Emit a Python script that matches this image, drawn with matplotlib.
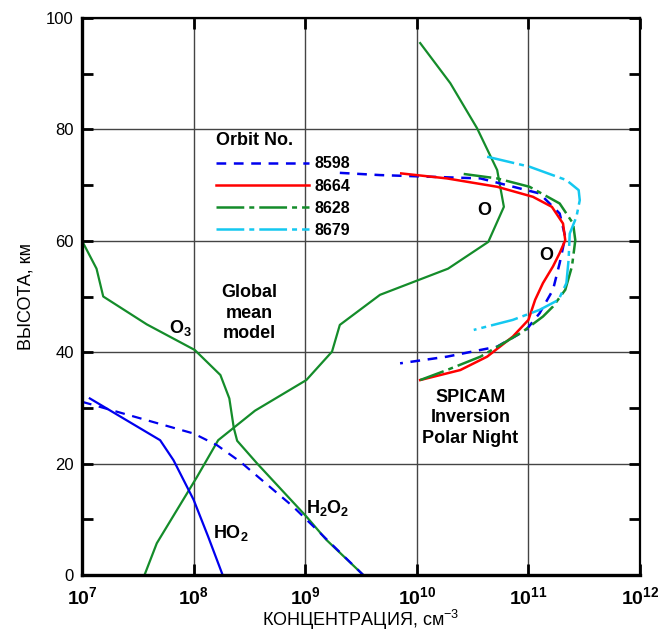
import numpy as np
import matplotlib
matplotlib.use("Agg")
import matplotlib.pyplot as plt

plt.rcParams['font.family'] = ['Liberation Sans', 'DejaVu Sans']
plt.rcParams['mathtext.fontset'] = 'custom'
plt.rcParams['mathtext.rm'] = 'Liberation Sans'
plt.rcParams['mathtext.bf'] = 'Liberation Sans:bold'
plt.rcParams['mathtext.it'] = 'Liberation Sans:italic'
plt.rcParams['lines.scale_dashes'] = False

# global mean model profiles (log10 concentration, altitude km)
o3_logc = [7.0, 7.13, 7.19, 7.58, 8.01, 8.24, 8.32, 8.36, 8.39, 8.57, 9.01, 9.19, 9.52]
o3_alt = [60.0, 55.0, 50.0, 45.0, 40.4, 35.9, 31.7, 26.4, 24.1, 20.0, 10.5, 6.3, 0.0]

o_logc = [7.56, 7.67, 8.03, 8.22, 8.55, 9.01, 9.24, 9.31, 9.67, 10.28, 10.64, 10.78,
          10.72, 10.54, 10.30, 10.03]
o_alt = [0.0, 5.7, 17.6, 24.2, 29.5, 35.0, 40.1, 44.9, 50.3, 55.0, 59.8, 66.1,
         72.7, 80.2, 88.3, 95.5]

ho2_logc = [7.07, 7.70, 7.82, 8.00, 8.13, 8.26]
ho2_alt = [31.7, 24.2, 20.6, 13.5, 6.9, 0.0]

h2o2_logc = [7.0, 8.00, 8.21, 8.42, 8.89, 9.52]
h2o2_alt = [31.1, 25.4, 23.3, 20.3, 12.3, 0.0]

# SPICAM ozone inversions, polar night
orbit_8598_logc = [9.31, 9.67, 10.57, 11.10, 11.28, 11.33, 11.28, 11.22, 11.10,
                   10.98, 10.72, 10.27, 9.85]
orbit_8598_alt = [72.2, 71.8, 71.2, 68.5, 64.9, 60.7, 56.0, 51.2, 47.0, 44.0, 41.0, 39.2, 38.0]

orbit_8664_logc = [9.86, 10.27, 10.72, 11.04, 11.21, 11.31, 11.33, 11.28, 11.22, 11.13,
                   11.06, 11.00, 10.86, 10.63, 10.39, 10.03]
orbit_8664_alt = [72.1, 71.2, 69.7, 67.9, 66.1, 63.1, 60.1, 57.8, 55.4, 52.4,
                  49.4, 45.8, 42.8, 39.2, 36.8, 35.0]

orbit_8628_logc = [10.42, 10.72, 11.01, 11.28, 11.40, 11.42, 11.39, 11.33, 11.22, 11.13,
                   10.95, 10.80, 10.57, 10.27, 10.03]
orbit_8628_alt = [72.0, 71.2, 69.7, 66.7, 63.1, 60.1, 55.4, 51.2, 48.2, 46.4,
                  43.7, 41.9, 39.2, 36.8, 35.0]

orbit_8679_logc = [10.63, 11.01, 11.34, 11.45, 11.46, 11.43, 11.37, 11.36, 11.34, 11.27,
                   11.10, 10.86, 10.51]
orbit_8679_alt = [75.1, 73.3, 70.9, 69.1, 67.3, 64.3, 61.3, 56.6, 52.4, 49.4, 47.6, 45.8, 44.0]

orbit_names = ['8598', '8664', '8628', '8679']
x_decades = [7, 8, 9, 10, 11, 12]

fig = plt.figure(figsize=(6.69, 6.32), dpi=100)
ax = fig.add_axes([0.1226, 0.0902, 0.8341, 0.8813])

dgreen = '#148c2a'
blue = '#0000ee'
red = '#ff0000'
cyan = '#14c8f0'
dash = (0, (7, 5.5))
dashdot = (0, (20, 3.6, 3.6, 3.6))

ax.plot(10 ** np.array(o3_logc), o3_alt, color=dgreen, lw=1.6)
ax.plot(10 ** np.array(o_logc), o_alt, color=dgreen, lw=1.6)
ax.plot(10 ** np.array(ho2_logc), ho2_alt, color=blue, lw=1.6)
ax.plot(10 ** np.array(h2o2_logc), h2o2_alt, color=blue, lw=1.6, ls=dash)

l1, = ax.plot(10 ** np.array(orbit_8598_logc), orbit_8598_alt, color=blue, lw=1.8, ls=dash)
l2, = ax.plot(10 ** np.array(orbit_8664_logc), orbit_8664_alt, color=red, lw=1.8)
l3, = ax.plot(10 ** np.array(orbit_8628_logc), orbit_8628_alt, color=dgreen, lw=1.8, ls=dashdot)
l4, = ax.plot(10 ** np.array(orbit_8679_logc), orbit_8679_alt, color=cyan, lw=1.8, ls=dashdot)

ax.set_xscale('log')
ax.set_xlim(1e7, 1e12)
ax.set_ylim(0, 100)
ax.set_xticks([10.0 ** d for d in x_decades])
ax.set_xticklabels([r'$\mathbf{10^{%d}}$' % d for d in x_decades], fontsize=14)
ax.xaxis.set_minor_locator(matplotlib.ticker.NullLocator())
ax.set_yticks(np.arange(0, 101, 20))
ax.set_yticks(np.arange(10, 100, 20), minor=True)
ax.tick_params(axis='y', which='major', labelsize=12, pad=6)
ax.tick_params(axis='x', which='major', pad=8)
ax.tick_params(which='both', direction='in', length=8, width=2,
               top=True, right=True, color='black')
ax.grid(True, which='major', color='#444444', lw=1)

for side, w in [('left', 2.4), ('bottom', 2.4), ('top', 1.6), ('right', 1.6)]:
    ax.spines[side].set_linewidth(w)

ax.set_ylabel('ВЫСОТА, км', fontsize=13, labelpad=8)
ax.set_xlabel('КОНЦЕНТРАЦИЯ, см$^{\\mathrm{-3}}$', fontsize=13, labelpad=0)

leg = ax.legend([l1, l2, l3, l4], orbit_names, title='Orbit No.',
                loc='upper left', bbox_to_anchor=(0.22, 0.815), frameon=False,
                handlelength=5.8, handletextpad=0.35, labelspacing=0.45,
                prop={'weight': 'bold', 'size': 11.5},
                title_fontproperties={'weight': 'bold', 'size': 13},
                alignment='left', borderpad=0.2)

tk = dict(fontweight='bold', fontsize=13, ha='center', va='center')
ax.text(10 ** 10.60, 65.4, 'O', **tk)
ax.text(10 ** 11.16, 57.3, 'O', **tk)
ax.text(10 ** 8.50, 47.0, 'Global\nmean\nmodel', linespacing=1.25, **tk)
ax.text(10 ** 7.88, 44.4, r'$\mathbf{O_3}$', **tk)
ax.text(10 ** 9.20, 12.0, r'$\mathbf{H_2O_2}$', **tk)
ax.text(10 ** 8.33, 7.6, r'$\mathbf{HO_2}$', **tk)
ax.text(10 ** 10.48, 28.2, 'SPICAM\nInversion\nPolar Night', linespacing=1.25, **tk)

fig.savefig('out.png', dpi=100)
